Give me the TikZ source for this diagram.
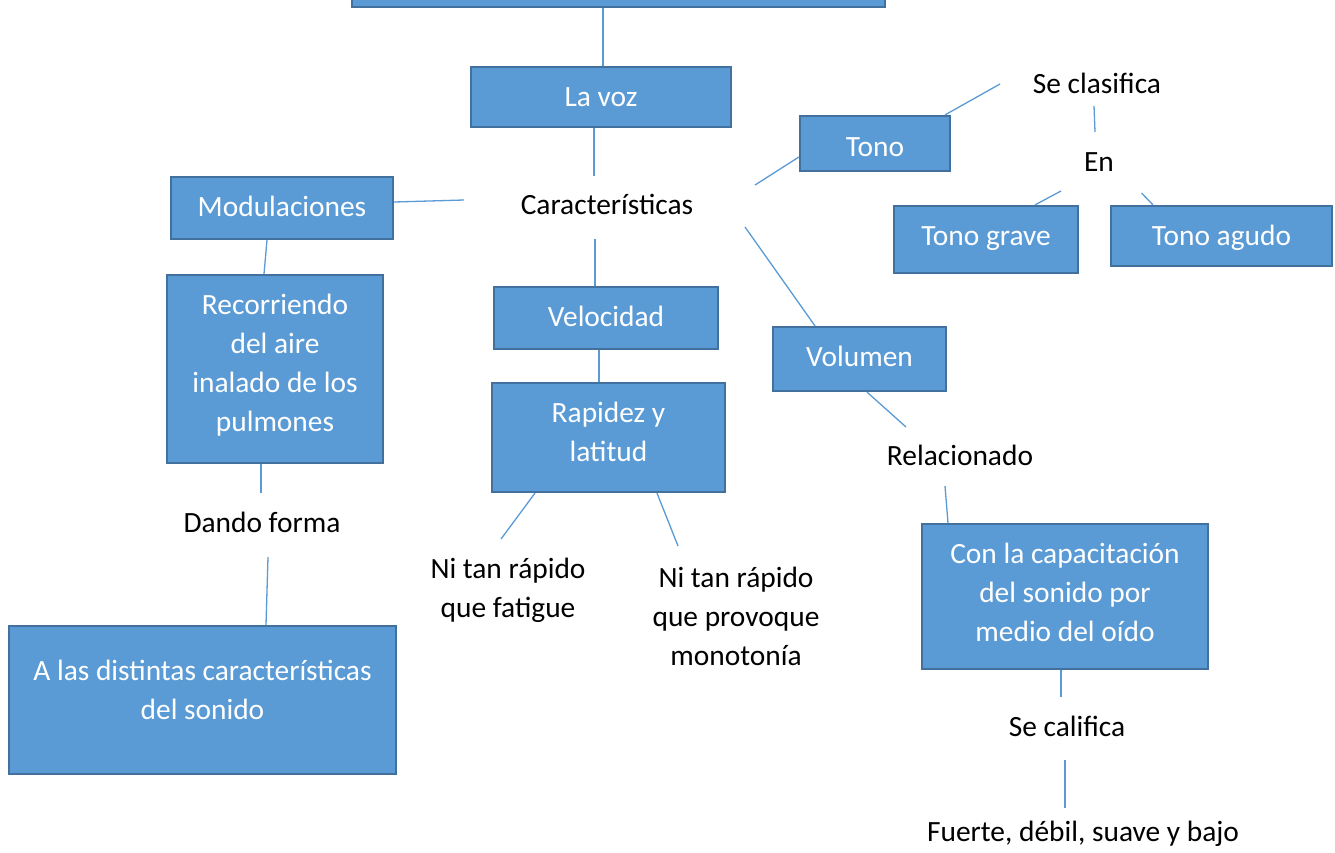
\documentclass[tikz,border=0pt]{standalone}
\usepackage{fontspec}
\setmainfont{Carlito}
\definecolor{boxfill}{HTML}{5B9BD5}
\definecolor{boxline}{HTML}{41719C}
\definecolor{connc}{HTML}{5B9BD5}
\begin{document}
\begin{tikzpicture}[x=1pt,y=-1pt,
  every node/.style={font=\fontsize{29.4}{39}\selectfont},
  box/.style={draw=boxline, fill=boxfill, line width=2.2pt, text=white, align=center, inner sep=0pt},
  lbl/.style={text=black, align=center, inner sep=0pt},
  one/.style={text height=#1, text depth=0pt},
  link/.style={draw=connc, line width=1.3pt}]
\fill[white] (0,0) rectangle (1335,852);
\useasboundingbox (0,0) rectangle (1335,852);
\clip (0,0) rectangle (1335,852);

% boxes
\node[box, minimum width=533, minimum height=47] (top) at (618.5,-16.5) {};
\node[box, one=18pt, minimum width=260, minimum height=60] (lavoz) at (601,97) {La voz};
\node[box, one=17.4pt, minimum width=222, minimum height=62] (mod) at (282,208) {Modulaciones};
\node[box, minimum width=216, minimum height=188] (rec) at (275,369) {Recorriendo\\del aire\\inalado de los\\pulmones\\[-26pt]~};
\node[box, minimum width=387, minimum height=148] (dist) at (202.5,700) {A las distintas características\\del sonido\\[-18pt]~};
\node[box, one=17.4pt, minimum width=224, minimum height=62] (vel) at (606,318) {Velocidad};
\node[box, minimum width=233, minimum height=109] (rap) at (608.5,437.5) {Rapidez y\\latitud\\[-27pt]~};
\node[box, one=14pt, minimum width=173, minimum height=64] (vol) at (859.5,359) {Volumen};
\node[box, one=25pt, minimum width=150, minimum height=55] (tono) at (875,143.5) {Tono};
\node[box, one=11pt, minimum width=184, minimum height=67] (grave) at (986,239.5) {Tono grave};
\node[box, one=19pt, minimum width=221, minimum height=60] (agudo) at (1221.5,236) {Tono agudo};
\node[box, minimum width=286, minimum height=145] (capa) at (1065,596.5) {Con la capacitación\\del sonido por\\medio del oído\\[-30pt]~};

% plain labels
\node[lbl, anchor=base] (car) at (607,214) {Características};
\node[lbl, anchor=base] (seclas) at (1097,93) {Se clasifica};
\node[lbl, anchor=base] (en) at (1099,171) {En};
\node[lbl, anchor=base] (rel) at (960,465) {Relacionado};
\node[lbl, anchor=base] (dando) at (262,532) {Dando forma};
\node[lbl] (fat) at (508,590) {Ni tan rápido\\que fatigue};
\node[lbl] (mono) at (736,616) {Ni tan rápido\\que provoque\\monotonía};
\node[lbl, anchor=base] (secal) at (1067,736) {Se califica};
\node[lbl, anchor=base] (fuerte) at (1083,841) {Fuerte, débil, suave y bajo};

% free ends
\coordinate (a1) at (603,0);
\coordinate (a2) at (594,176);
\coordinate (a3) at (464,200);
\coordinate (a5) at (261,493);
\coordinate (a6) at (268,557);
\coordinate (a7) at (595,239);
\coordinate (a9) at (501,539);
\coordinate (a10) at (678,546);
\coordinate (a11) at (755,185);
\coordinate (a12) at (1000,84);
\coordinate (a13a) at (1094,106);
\coordinate (a13b) at (1095,132);
\coordinate (a14) at (1061,191);
\coordinate (a15) at (1141.5,193);
\coordinate (a16) at (745,227);
\coordinate (a17) at (906,427);
\coordinate (a18) at (945,486);
\coordinate (a19) at (1061,697);
\coordinate (a20a) at (1065,760);
\coordinate (a20b) at (1065,808);

% connectors
\draw[link] (a1 |- top.south) -- (a1 |- lavoz.north);
\draw[link] (a2 |- lavoz.south) -- (a2);
\draw[link] ([yshift=6pt]mod.east) -- (a3);
\draw[link] ([xshift=-15pt]mod.south) -- ([xshift=-11pt]rec.north);
\draw[link] (a5 |- rec.south) -- (a5);
\draw[link] (a6) -- ([xshift=63.5pt]dist.north);
\draw[link] (a7) -- (a7 |- vel.north);
\draw[link] ([xshift=-7pt]vel.south) -- ([xshift=-9.5pt]rap.north);
\draw[link] ([xshift=-73.5pt]rap.south) -- (a9);
\draw[link] ([xshift=48.5pt]rap.south) -- (a10);
\draw[link] (a11) -- ([yshift=-13.5pt]tono.west);
\draw[link] ([xshift=70pt]tono.north) -- (a12);
\draw[link] (a13a) -- (a13b);
\draw[link] (a14) -- ([xshift=49pt]grave.north);
\draw[link] (a15) -- ([xshift=-68.5pt]agudo.north);
\draw[link] (a16) -- ([xshift=-44.5pt]vol.north);
\draw[link] ([xshift=7.5pt]vol.south) -- (a17);
\draw[link] (a18) -- ([xshift=-117pt]capa.north);
\draw[link] (a19 |- capa.south) -- (a19);
\draw[link] (a20a) -- (a20b);
\end{tikzpicture}
\end{document}
